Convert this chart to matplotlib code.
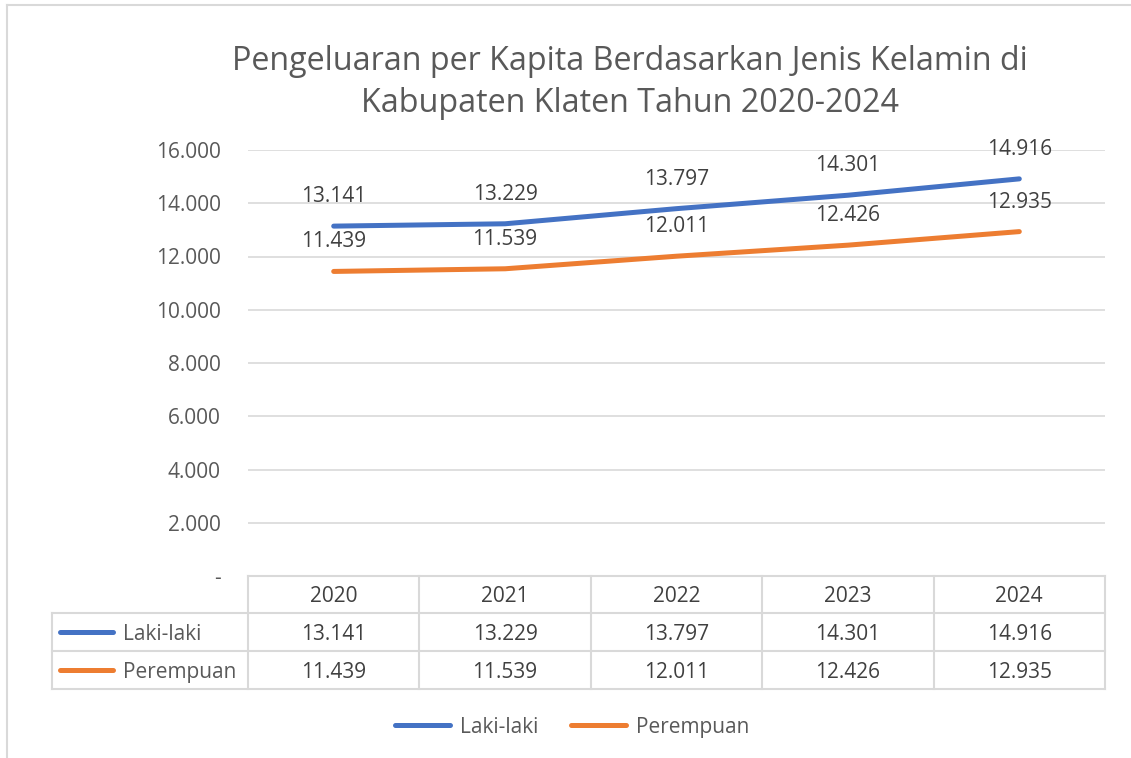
import matplotlib
matplotlib.use("Agg")
import matplotlib.pyplot as plt
from matplotlib.lines import Line2D
import matplotlib.transforms as mtransforms

years = ["2020", "2021", "2022", "2023", "2024"]
laki = [13141, 13229, 13797, 14301, 14916]
perempuan = [11439, 11539, 12011, 12426, 12935]
series_names = ["Laki-laki", "Perempuan"]
yticks = [0, 2000, 4000, 6000, 8000, 10000, 12000, 14000, 16000]
title = "Pengeluaran per Kapita Berdasarkan Jenis Kelamin di\nKabupaten Klaten Tahun 2020-2024"

BLUE = "#4472C4"
ORANGE = "#ED7D31"
TXT = "#595959"
GRID = "#D9D9D9"
FS = 15

plt.rcParams['font.family'] = ['Open Sans', 'DejaVu Sans']

W, H = 1131, 758
fig = plt.figure(figsize=(W / 100, H / 100), dpi=100)

def fy(py):
    return 1 - py / H

def fx(px):
    return px / W

# outer chart border (left and top visible)
fig.add_artist(Line2D([fx(7), fx(7)], [fy(5), fy(758)], color=GRID, lw=1.5))
fig.add_artist(Line2D([fx(7), fx(1131)], [fy(5), fy(5)], color=GRID, lw=1.5))

ax = fig.add_axes([fx(248), fy(576), fx(1105) - fx(248), fy(150) - fy(576)])
ax.set_xlim(-0.5, len(years) - 0.5)
ax.set_ylim(0, 16000)
for s in ax.spines.values():
    s.set_visible(False)
ax.set_xticks([])
ax.set_yticks(yticks)
ax.set_yticklabels(["-" if v == 0 else f"{v:,}".replace(",", ".") for v in yticks],
                   fontsize=FS, color=TXT)
ax.tick_params(axis='y', length=0, pad=19.5)
ax.yaxis.grid(True, color=GRID, lw=1.2)
ax.set_axisbelow(True)

xs = list(range(len(years)))
fmt = lambda v: f"{v:,}".replace(",", ".")
ax.plot(xs, laki, color=BLUE, lw=3.6, solid_capstyle='round', solid_joinstyle='round')
ax.plot(xs, perempuan, color=ORANGE, lw=3.6, solid_capstyle='round', solid_joinstyle='round')
for x, v in zip(xs, laki):
    ax.annotate(fmt(v), (x, v), xytext=(0, 19), textcoords='offset pixels',
                ha='center', va='bottom', fontsize=FS, color="#404040")
for x, v in zip(xs, perempuan):
    ax.annotate(fmt(v), (x, v), xytext=(0, 19), textcoords='offset pixels',
                ha='center', va='bottom', fontsize=FS, color="#404040")

fig.text(fx(630), fy(61), title.split("\n")[0], ha='center', va='center',
         fontsize=23.2, color=TXT)
fig.text(fx(630), fy(103), title.split("\n")[1], ha='center', va='center',
         fontsize=23.2, color=TXT)

# data table
trans = mtransforms.blended_transform_factory(ax.transData, fig.transFigure)
y_top, y_h, y_r1, y_bot = fy(576), fy(613), fy(651), fy(689)
dy = 2.5 / H  # small downward shift for text centering
x_left = fx(52)
tl = dict(color=GRID, lw=1.5)
for i in range(len(years) + 1):
    xb = i - 0.5
    fig.add_artist(Line2D([xb, xb], [y_top, y_bot], transform=trans, **tl))
fig.add_artist(Line2D([-0.5, len(years) - 0.5], [y_top, y_top], transform=trans, **tl))
for yy in (y_h, y_r1, y_bot):
    fig.add_artist(Line2D([x_left, fx(1105)], [yy, yy], **tl))
fig.add_artist(Line2D([x_left, x_left], [y_h, y_bot], **tl))

for i, yr in enumerate(years):
    fig.text(i, (y_top + y_h) / 2 - dy, yr, transform=trans, ha='center', va='center',
             fontsize=FS, color="#404040")
    fig.text(i, (y_h + y_r1) / 2 - dy, fmt(laki[i]), transform=trans, ha='center', va='center',
             fontsize=FS, color="#404040")
    fig.text(i, (y_r1 + y_bot) / 2 - dy, fmt(perempuan[i]), transform=trans, ha='center', va='center',
             fontsize=FS, color="#404040")

for name, col, (ya, yb) in zip(series_names, [BLUE, ORANGE], [(y_h, y_r1), (y_r1, y_bot)]):
    yc = (ya + yb) / 2
    fig.add_artist(Line2D([fx(60), fx(113)], [yc, yc], color=col, lw=3.6, solid_capstyle='round'))
    fig.text(fx(123), yc - dy, name, ha='left', va='center', fontsize=FS, color=TXT)

# legend
for name, col, x0 in zip(series_names, [BLUE, ORANGE], [395, 571]):
    yc = fy(725)
    fig.add_artist(Line2D([fx(x0), fx(x0 + 55)], [yc, yc], color=col, lw=3.6, solid_capstyle='round'))
    fig.text(fx(x0 + 65), yc - dy, name, ha='left', va='center', fontsize=FS, color=TXT)

fig.savefig("out.png", dpi=100)
